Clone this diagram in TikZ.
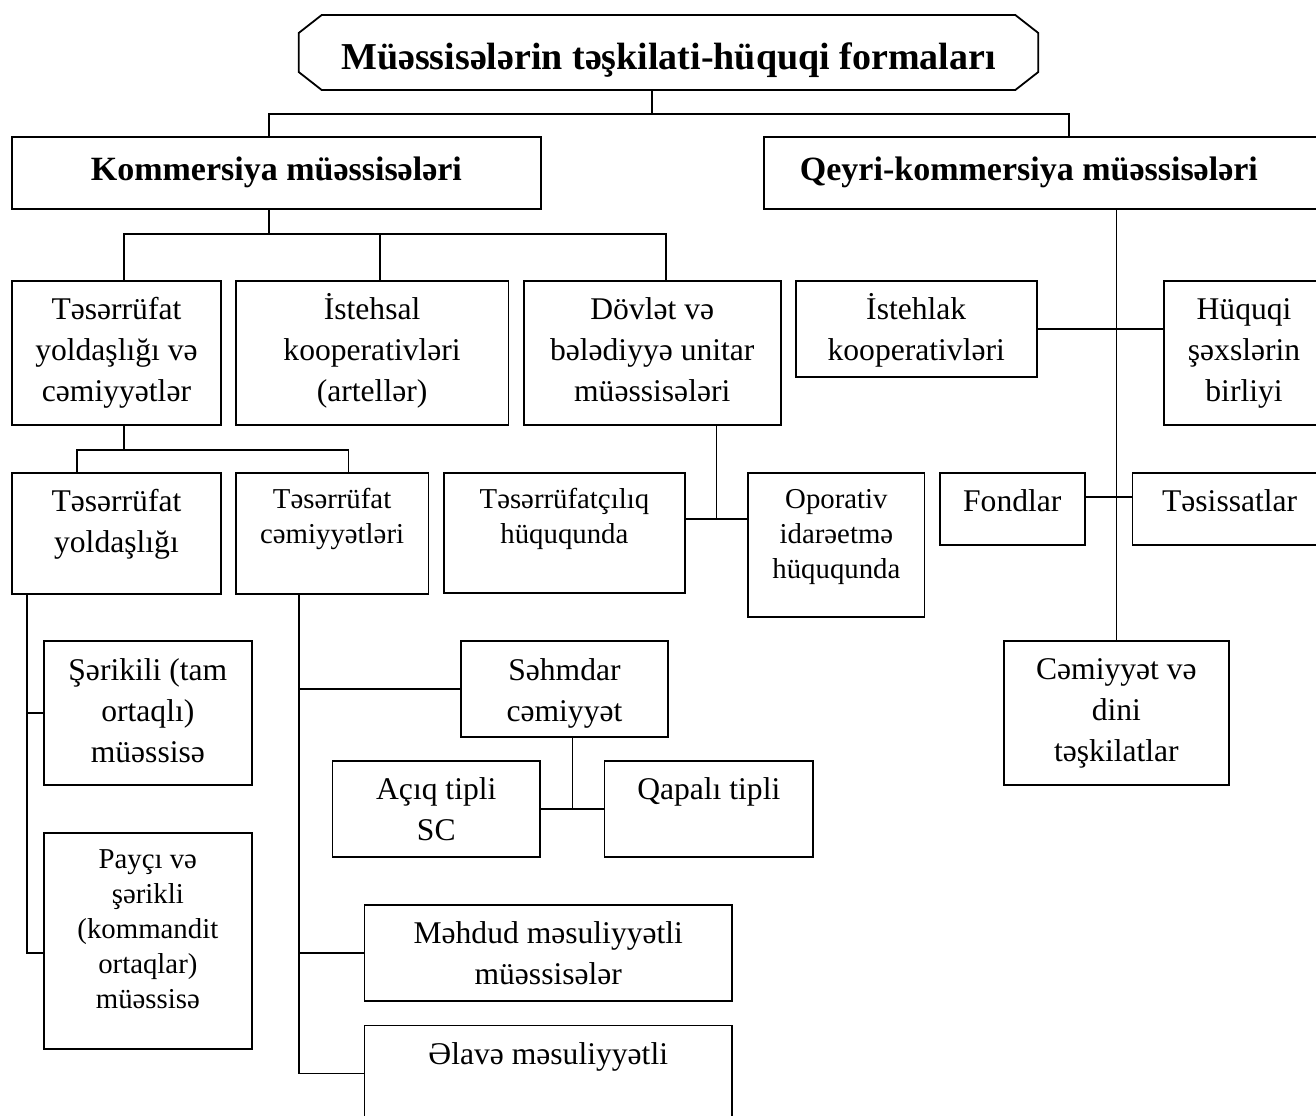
\documentclass[tikz,border=0pt]{standalone}
\usepackage{fontspec}
\setmainfont{Liberation Serif}
\usetikzlibrary{calc}
\newcommand{\maintxt}[3]{\parbox[t][#2][t]{#1}{\centering\fontsize{15.8pt}{20.5pt}\selectfont\rule{0pt}{19.5pt}#3}}
\newcommand{\smalltxt}[3]{\parbox[t][#2][t]{#1}{\centering\fontsize{14.4pt}{17.5pt}\selectfont\rule{0pt}{18pt}#3}}
\newcommand{\headtxt}[3]{\parbox[t][#2][t]{#1}{\centering\bfseries\fontsize{17pt}{20pt}\selectfont\rule{0pt}{21.7pt}#3}}
\tikzset{
	box/.style={draw, line width=0.9pt, inner sep=0pt, anchor=north west},
	link/.style={line width=0.9pt}
}
\begin{document}
\begin{tikzpicture}[x=0.5pt, y=-0.5pt]
		\useasboundingbox (0,0) rectangle (1316,1115);
		\clip (0,0) rectangle (1316,1115);
		\node[box, draw=none] (title) at (298.7,15) {\parbox[t][36.6pt][t]{368.9pt}{\centering\bfseries\fontsize{19pt}{22pt}\selectfont\rule{0pt}{26.6pt}Müəssisələrin təşkilati-hüquqi formaları}};
		\draw[link] ($(title.north west)+(23,0)$) -- ($(title.north east)+(-23,0)$) -- ($(title.north east)+(0,18)$) -- ($(title.south east)+(0,-18)$) -- ($(title.south east)+(-23,0)$) -- ($(title.south west)+(23,0)$) -- ($(title.south west)+(0,-18)$) -- ($(title.north west)+(0,18)$) -- cycle;
		\node[box] (kom) at (11,136) {\headtxt{264.5pt}{36.15pt}{Kommersiya müəssisələri}};
		\node[box] (qeyri) at (763,136) {\headtxt{265pt}{36.15pt}{Qeyri-kommersiya müəssisələri}\hspace*{40pt}};
		\node[box] (tya) at (11.4,280) {\maintxt{104.15pt}{72pt}{Təsərrüfat\\yoldaşlığı və\\cəmiyyətlər}};
		\node[box] (ist) at (234.8,280) {\maintxt{136.4pt}{72pt}{İstehsal\\kooperativləri\\(artellər)}};
		\node[box] (dov) at (523,280) {\maintxt{128.35pt}{72pt}{Dövlət və\\bələdiyyə unitar\\müəssisələri}};
		\node[box] (isl) at (795,280) {\maintxt{120.35pt}{48pt}{İstehlak\\kooperativləri}};
		\node[box] (huq) at (1163.3,280) {\maintxt{79.85pt}{72pt}{Hüquqi\\şəxslərin\\birliyi}};
		\node[box] (ty) at (11.4,471.7) {\maintxt{104.15pt}{60.5pt}{Təsərrüfat\\yoldaşlığı}};
		\node[box] (tsc) at (234.8,471.7) {\smalltxt{96.4pt}{60.5pt}{Təsərrüfat\\cəmiyyətləri}};
		\node[box] (tsf) at (443,472) {\smalltxt{120.5pt}{60pt}{Təsərrüfatçılıq\\hüququnda}};
		\node[box] (opr) at (747.4,472) {\smalltxt{88.1pt}{72pt}{Oporativ\\idarəetmə\\hüququnda}};
		\node[box] (fon) at (939,471.7) {\maintxt{72.4pt}{36.15pt}{Fondlar}};
		\node[box] (tes) at (1131.5,471.7) {\maintxt{97.25pt}{36.15pt}{Təsissatlar}};
		\node[box] (ser) at (42.9,640.2) {\maintxt{104.05pt}{72pt}{Şərikili (tam\\ortaqlı)\\müəssisə}};
		\node[box] (pay) at (42.9,832) {\smalltxt{104.05pt}{108pt}{Payçı və\\şərikli\\(kommandit\\ortaqlar)\\müəssisə}};
		\node[box] (seh) at (459.7,640.2) {\maintxt{103.85pt}{48.05pt}{Səhmdar\\cəmiyyət}};
		\node[box] (aciq) at (331.6,760) {\maintxt{103.8pt}{48pt}{Açıq tipli\\SC}};
		\node[box] (qap) at (603.6,760) {\maintxt{104.3pt}{48pt}{Qapalı tipli}};
		\node[box] (meh) at (363.5,904) {\maintxt{183.85pt}{48.2pt}{Məhdud məsuliyyətli\\müəssisələr}};
		\node[box] (ala) at (363.5,1024.5) {\maintxt{183.85pt}{48pt}{Əlavə məsuliyyətli}};
		\node[box] (cem) at (1003.3,640) {\maintxt{112.2pt}{72.15pt}{Cəmiyyət və\\dini\\təşkilatlar}};
		\draw[link] ([xshift=-8.3pt]title.south) -- ++(0,23.7) coordinate (b0);
		\draw[link] ([xshift=-3.9pt]kom.north) |- (b0) -| (qeyri.north);
		\draw[link] ([xshift=-3.9pt]kom.south) -- ++(0,23.7) coordinate (b1);
		\draw[link] ([xshift=3.9pt]tya.north) |- (b1) -| ([xshift=7pt]dov.north);
		\draw[link] ([xshift=3.8pt]ist.north) -- ([xshift=3.8pt]ist.north |- b1);
		\draw[link] ([xshift=3.9pt]tya.south) -- ++(0,24) coordinate (b2);
		\draw[link] ([xshift=-19.85pt]ty.north) |- (b2) -| ([xshift=8.2pt]tsc.north);
		\draw[link] ([xshift=7.9pt]ty.south west) coordinate (d0) |- ([yshift=-6pt]pay.west);
		\draw[link] (ser.west) -- (ser.west -| d0);
		\draw[link] ([xshift=32.2pt]tsc.south west) coordinate (e0) |- (ala.west);
		\draw[link] (seh.west) -- (seh.west -| e0);
		\draw[link] (meh.west) -- (meh.west -| e0);
		\draw[link] ([xshift=4pt]seh.south) -- ([xshift=4pt]seh.south |- aciq.east);
		\draw[link] (aciq.east) -- (qap.west);
		\draw[link] ([yshift=-23.65pt]tsf.north east) coordinate (f0) -- (f0 -| opr.west);
		\draw[link] ([xshift=32.1pt]dov.south) -- ([xshift=32.1pt]dov.south |- f0);
		\draw[link] (cem.north |- qeyri.south) -- (cem.north);
		\draw[link] (isl.east) -- (isl.east -| huq.west);
		\draw[link] ([yshift=6pt]fon.east) -- ([yshift=6pt]fon.east -| tes.west);
\end{tikzpicture}
\end{document}
